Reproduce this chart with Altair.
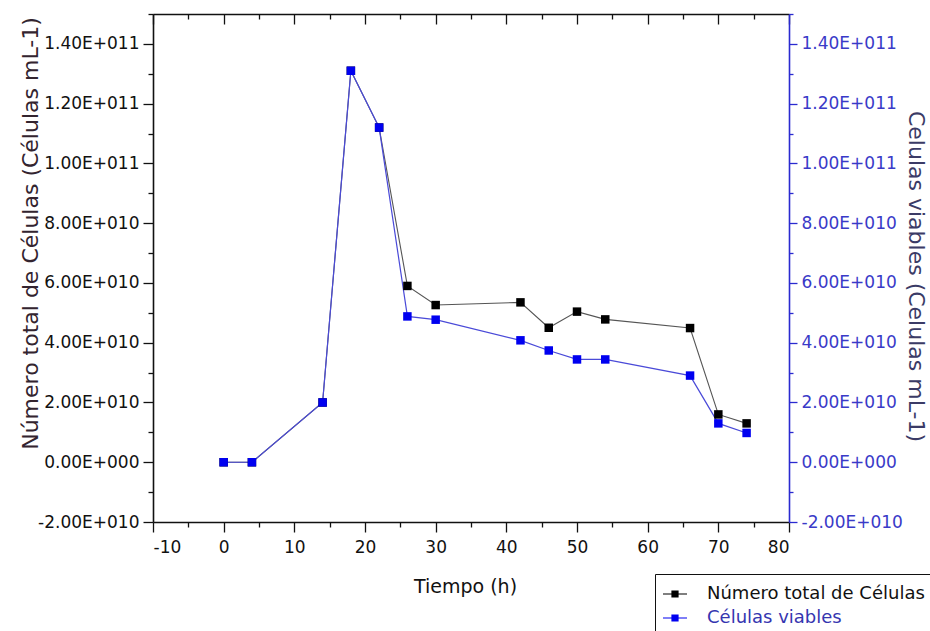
import altair as alt
import pandas as pd

# ---- data ----
hours = [0, 4, 14, 18, 22, 26, 30, 42, 46, 50, 54, 66, 70, 74]
total_cells = [0.0, 0.0, 2.0e10, 1.31e11, 1.12e11, 5.9e10, 5.26e10, 5.35e10,
               4.5e10, 5.04e10, 4.78e10, 4.49e10, 1.6e10, 1.3e10]
viable_cells = [0.0, 0.0, 2.0e10, 1.31e11, 1.12e11, 4.88e10, 4.77e10, 4.08e10,
                3.74e10, 3.44e10, 3.44e10, 2.9e10, 1.3e10, 0.98e10]
series_names = ["Número total de Células", "Células viables"]
series_colors = ["#000000", "#0000f0"]

x_major = [-10, 0, 10, 20, 30, 40, 50, 60, 70, 80]
x_minor = [-5, 5, 15, 25, 35, 45, 55, 65, 75]
y_major = [-2e10, 0, 2e10, 4e10, 6e10, 8e10, 1e11, 1.2e11, 1.4e11]
y_minor = [-1e10, 1e10, 3e10, 5e10, 7e10, 9e10, 1.1e11, 1.3e11, 1.5e11]

rows = []
for h, v in zip(hours, total_cells):
    rows.append({"hour": h, "value": v, "serie": series_names[0]})
for h, v in zip(hours, viable_cells):
    rows.append({"hour": h, "value": v, "serie": series_names[1]})
df = pd.DataFrame(rows)

W, H = 636, 508
FONT = "DejaVu Sans"
BLUE_AX = "#2a2ad0"
BLUE_TXT = "#3a3ac8"

EXP = "floor(log(abs(datum.value)) / LN10 + 1e-9)"
LBL = ("datum.value == 0 ? '0.00E+000' : "
       "(datum.value < 0 ? '-' : '') + "
       "format(abs(datum.value) / pow(10, " + EXP + "), '.2f')"
       " + 'E+' + pad(toString(" + EXP + "), 3, '0', 'left')")
XLBL = "(datum.value < 0 ? '-' : '') + toString(abs(datum.value))"

xs = alt.Scale(domain=[-10, 80], nice=False, zero=False)
ys = alt.Scale(domain=[-2e10, 1.5e11], nice=False, zero=False)

# layer 1: black line + bottom major axis + left major axis
l1 = alt.Chart(df).transform_filter(alt.datum.serie == series_names[0]).mark_line(
    color="#555555", strokeWidth=1.1
).encode(
    x=alt.X("hour:Q", scale=xs, axis=alt.Axis(
        orient="bottom", values=x_major, tickSize=10, tickWidth=1.3, tickColor="#111",
        domainColor="#111", domainWidth=1.6, labelFont=FONT, labelFontSize=17,
        labelColor="#111", labelPadding=7, labelExpr=XLBL, title="Tiempo (h)",
        titleFont=FONT, titleFontSize=19, titleFontWeight="normal", titleColor="#111",
        titleX=312, titleY=70, titleAlign="center", titleBaseline="alphabetic",
        grid=False)),
    y=alt.Y("value:Q", scale=ys, axis=alt.Axis(
        orient="left", values=y_major, tickSize=10, tickWidth=1.3, tickColor="#111",
        domainColor="#111", domainWidth=1.6, labelFont=FONT, labelFontSize=17,
        labelColor="#111", labelPadding=4, labelExpr=LBL,
        title="Número total de Células (Células mL-1)", titleFont=FONT,
        titleFontSize=22, titleFontWeight="normal", titleColor="#33242f",
        titleAngle=270, titleX=-116, titleY=219, titleAlign="center",
        titleBaseline="alphabetic", grid=False)),
)

# layer 2: blue line + bottom minor ticks + left minor ticks
l2 = alt.Chart(df).transform_filter(alt.datum.serie == series_names[1]).mark_line(
    color="#4a4ad8", strokeWidth=1.2
).encode(
    x=alt.X("hour:Q", scale=xs, axis=alt.Axis(
        orient="bottom", values=x_minor, tickSize=5, tickWidth=1.3, tickColor="#111",
        domain=False, labels=False, title=None, grid=False)),
    y=alt.Y("value:Q", scale=ys, axis=alt.Axis(
        orient="left", values=y_minor, tickSize=5, tickWidth=1.3, tickColor="#111",
        domain=False, labels=False, title=None, grid=False)),
)

SYM = "M-1,-0.04H-0.3V-0.3H0.3V-0.04H1V0.04H0.3V0.3H-0.3V0.04H-1Z"

# layer 3: squares + legend + top major ticks (inward) + right major axis
l3 = alt.Chart(df).mark_square(size=72, opacity=1, strokeWidth=0).encode(
    x=alt.X("hour:Q", scale=xs, axis=alt.Axis(
        orient="bottom", offset=-H, values=x_major, tickSize=10, tickWidth=1.3,
        tickColor="#111", domainColor="#111", domainWidth=1.6, labels=False,
        title=None, grid=False)),
    y=alt.Y("value:Q", scale=ys, axis=alt.Axis(
        orient="right", values=y_major, tickSize=8, tickWidth=1.3, tickColor=BLUE_AX,
        domainColor=BLUE_AX, domainWidth=1.6, labelFont=FONT, labelFontSize=17,
        labelColor=BLUE_TXT, labelPadding=4, labelExpr=LBL,
        title="Celulas viables (Celulas mL-1)", titleFont=FONT, titleFontSize=22,
        titleFontWeight="normal", titleColor="#3b3b66", titleAngle=90,
        titleX=119, titleY=262, titleAlign="center", titleBaseline="alphabetic",
        grid=False)),
    fill=alt.Fill("serie:N", sort=series_names,
                  scale=alt.Scale(domain=series_names, range=series_colors),
                  legend=alt.Legend(
                      title=None, orient="none", legendX=502, legendY=560,
                      direction="vertical", symbolType=SYM, symbolSize=576,
                      symbolStrokeWidth=0, labelFont=FONT, labelFontSize=18,
                      labelColor={"expr": "datum.value == 'Células viables' ? '#3535b0' : '#111111'"},
                      labelOffset=20, labelLimit=400, strokeColor="#111",
                      fillColor="white", padding=8, rowPadding=3)),
)

# layer 4: invisible points carrying top minor ticks and right minor ticks
l4 = alt.Chart(df).mark_point(opacity=0).encode(
    x=alt.X("hour:Q", scale=xs, axis=alt.Axis(
        orient="bottom", offset=-H, values=x_minor, tickSize=5, tickWidth=1.3,
        tickColor="#111", domain=False, labels=False, title=None, grid=False)),
    y=alt.Y("value:Q", scale=ys, axis=alt.Axis(
        orient="right", values=y_minor, tickSize=4, tickWidth=1.3, tickColor=BLUE_AX,
        domain=False, labels=False, title=None, grid=False)),
)

chart = alt.layer(l1, l2, l3, l4).resolve_axis(
    x="independent", y="independent"
).properties(
    width=W, height=H,
    autosize=alt.AutoSizeParams(type="none"),
    padding={"left": 153, "top": 14, "right": 141, "bottom": 109},
    background="white",
).configure_view(stroke="transparent")

chart.save("out.html", embed_options={"renderer": "svg", "actions": False})
